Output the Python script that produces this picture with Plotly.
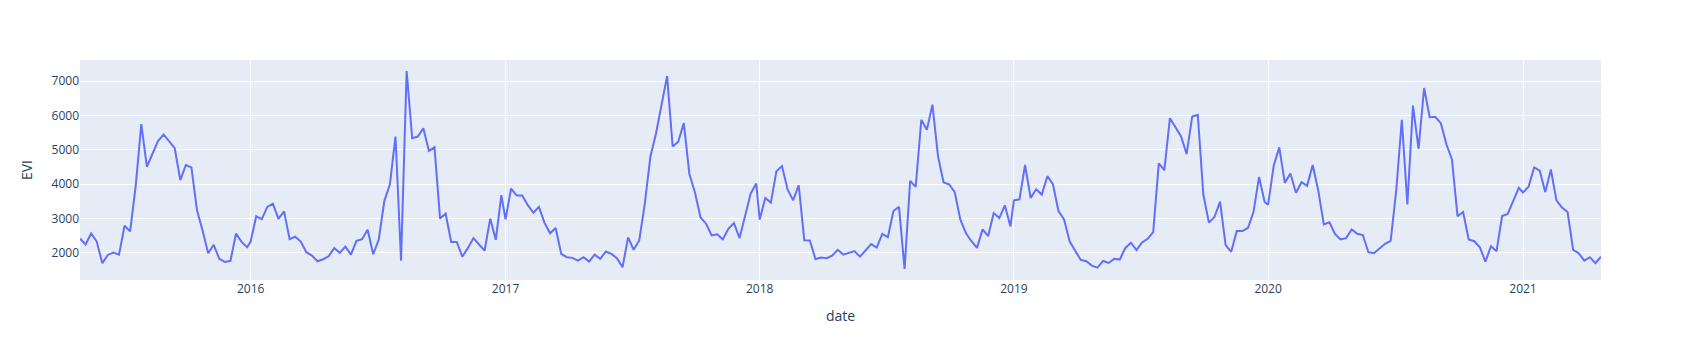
import pandas as pd
import plotly.express as px

# EVI values, 8-day composites (day-of-year 1, 9, ..., 361 each year)
evi_2015 = [2420, 2245, 2565, 2330, 1700, 1940, 2010, 1950, 2790, 2625, 3950, 5750, 4510, 4900,
            5260, 5450, 5240, 5050, 4120, 4560, 4490, 3240, 2650, 1990, 2235, 1825, 1735, 1765,
            2560, 2320, 2165]
evi_2016 = [2330, 3065, 2980, 3340, 3435, 2990, 3210, 2400, 2470, 2330, 2020, 1920, 1755, 1815,
            1900, 2140, 2000, 2185, 1950, 2350, 2400, 2675, 1960, 2390, 3510, 4000, 5390, 1775,
            7300, 5340, 5390, 5630, 4970, 5075, 3000, 3140, 2320, 2320, 1890, 2145, 2430, 2245,
            2070, 3000, 2380, 3680]
evi_2017 = [2975, 3875, 3670, 3670, 3390, 3170, 3340, 2875, 2570, 2725, 1970, 1875, 1855, 1775,
            1875, 1745, 1950, 1825, 2040, 1970, 1845, 1580, 2450, 2090, 2360, 3435, 4800, 5470,
            6320, 7150, 5100, 5240, 5780, 4300, 3760, 3030, 2850, 2510, 2540, 2390, 2700, 2870,
            2430, 3095, 3730, 4020]
evi_2018 = [2970, 3600, 3465, 4380, 4530, 3850, 3530, 3970, 2370, 2360, 1820, 1865, 1845, 1920,
            2090, 1950, 2000, 2050, 1890, 2070, 2255, 2155, 2555, 2460, 3220, 3340, 1530, 4100,
            3925, 5880, 5585, 6320, 4820, 4050, 4000, 3770, 2975, 2575, 2340, 2145, 2685, 2490,
            3160, 3015, 3385, 2770]
evi_2019 = [3530, 3560, 4560, 3600, 3855, 3700, 4235, 4000, 3220, 2975, 2335, 2060, 1795, 1755,
            1630, 1570, 1765, 1705, 1825, 1805, 2145, 2295, 2080, 2305, 2410, 2605, 4610, 4410,
            5925, 5660, 5390, 4880, 5975, 6025, 3700, 2880, 3045, 3495, 2225, 2030, 2635, 2635,
            2725, 3190, 4215, 3485]
evi_2020 = [3405, 4530, 5075, 4040, 4315, 3750, 4060, 3955, 4560, 3820, 2830, 2890, 2555, 2390,
            2430, 2685, 2555, 2520, 2020, 1990, 2125, 2265, 2350, 3825, 5880, 3415, 6290, 5030,
            6805, 5955, 5965, 5780, 5165, 4725, 3065, 3190, 2390, 2340, 2165, 1745, 2195, 2050,
            3075, 3135, 3515, 3895]
evi_2021 = [3760, 3925, 4490, 4395, 3770, 4430, 3530, 3320, 3190, 2090, 1990, 1775, 1875, 1700,
            1890]

years = [2015, 2016, 2017, 2018, 2019, 2020, 2021]
first_doy = [121, 1, 1, 1, 1, 1, 1]
series = [evi_2015, evi_2016, evi_2017, evi_2018, evi_2019, evi_2020, evi_2021]

dates, values = [], []
for yr, d0, vals in zip(years, first_doy, series):
    for i, v in enumerate(vals):
        dates.append(pd.Timestamp(f"{yr}-01-01") + pd.Timedelta(days=d0 - 1 + 8 * i))
        values.append(v)

df = pd.DataFrame({"date": dates, "EVI": values})
fig = px.line(df, x="date", y="EVI")
fig.update_layout(width=1681, height=360)
fig.write_html("out.html")
